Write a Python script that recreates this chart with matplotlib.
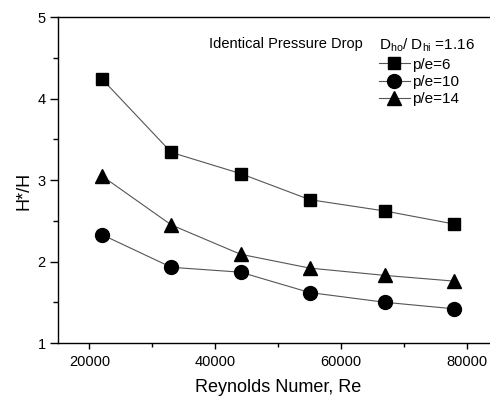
import matplotlib
matplotlib.use("Agg")
import matplotlib.pyplot as plt
from matplotlib.ticker import MultipleLocator

plt.rcParams['font.family'] = ['Liberation Sans', 'DejaVu Sans']
plt.rcParams['mathtext.fontset'] = 'custom'
plt.rcParams['mathtext.rm'] = 'Liberation Sans'
plt.rcParams['mathtext.it'] = 'Liberation Sans:italic'
plt.rcParams['savefig.bbox'] = 'standard'

re_values = [22000, 33000, 44000, 55000, 67000, 78000]
h_pe6 = [4.24, 3.34, 3.08, 2.76, 2.62, 2.46]
h_pe10 = [2.33, 1.93, 1.87, 1.62, 1.50, 1.42]
h_pe14 = [3.05, 2.45, 2.09, 1.92, 1.83, 1.76]
labels = ['p/e=6', 'p/e=10', 'p/e=14']

fig = plt.figure(figsize=(4.9, 3.98), dpi=100)
ax = fig.add_axes([0.1184, 0.138, 0.899, 0.819])
ax.patch.set_visible(False)

line_kw = dict(color='#555555', lw=0.8, markerfacecolor='black', markeredgecolor='black')
ax.plot(re_values, h_pe6, marker='s', ms=9, label=labels[0], **line_kw)
ax.plot(re_values, h_pe10, marker='o', ms=10, label=labels[1], **line_kw)
ax.plot(re_values, h_pe14, marker='^', ms=10.5, label=labels[2], **line_kw)

ax.set_xlim(15000, 85000)
ax.set_ylim(1, 5)
ax.xaxis.set_major_locator(MultipleLocator(20000))
ax.xaxis.set_minor_locator(MultipleLocator(10000))
ax.yaxis.set_major_locator(MultipleLocator(1))
ax.yaxis.set_minor_locator(MultipleLocator(0.5))
ax.tick_params(which='both', direction='out', top=False, right=False, labelsize=10.5, width=1)
ax.tick_params(axis='y', which='major', length=5.5, pad=3.5)
ax.tick_params(axis='y', which='minor', length=3.5)
ax.tick_params(axis='x', which='major', length=4, pad=4.5)
ax.tick_params(axis='x', which='minor', length=3)
for name, s in ax.spines.items():
    s.set_linewidth(1.0)
ax.spines['right'].set_visible(False)
ax.spines['top'].set_bounds(15000, 85000)
ax.spines['bottom'].set_bounds(15000, 85000)

ax.set_xlabel('Reynolds Numer, Re', fontsize=13, labelpad=7)
ax.set_ylabel('H*/H', fontsize=13)
ax.yaxis.set_label_coords(-0.059, 0.466)

ax.text(209 / 490, 1 - 44 / 398, 'Identical Pressure Drop', transform=fig.transFigure,
        fontsize=10.5, ha='left', va='center')

leg = ax.legend(title='D$_{\\rm ho}$/ D$_{\\rm hi}$ =1.16', loc='upper left',
                bbox_to_anchor=(379 / 490, 1 - 37 / 398), bbox_transform=fig.transFigure,
                frameon=False, fontsize=11, title_fontsize=11, handlelength=2.0,
                handletextpad=0.15, labelspacing=0.22, borderpad=0, borderaxespad=0)
leg._legend_box.align = 'left'

fig.savefig('out.png', dpi=100, bbox_inches=None)
